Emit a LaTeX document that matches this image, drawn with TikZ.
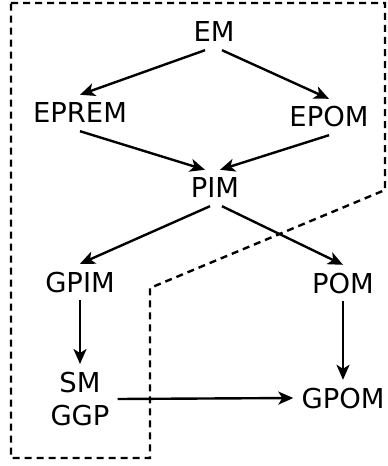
\documentclass[tikz,border=0pt]{standalone}
\usepackage{fontspec}
\setmainfont{DejaVu Sans}
\usepackage{tikz}
\usetikzlibrary{arrows.meta,calc,positioning}
\tikzset{model/.style={inner sep=8bp,text height=20bp,text depth=0bp,font=\fontsize{27.5}{33}\selectfont},
arr/.style={line width=2.4bp,-{Stealth[length=15bp,width=13bp,inset=4bp]}},
frame/.style={line width=2.4bp,dash pattern=on 7bp off 5bp}}

\begin{document}
\begin{tikzpicture}[x=1bp,y=-1bp]
\useasboundingbox (0,0) rectangle (387,466);
\draw[frame] (11,3) -- (385,3) -- (385,190) -- (150,288) -- (150,458) -- (11,458) -- cycle;
\node[model] (EM) at (214,32) {EM};
\node[model] (EPREM) at (80,113) {EPREM};
\node[model] (EPOM) at (329,117) {EPOM};
\node[model] (PIM) at (215,188) {PIM};
\node[model] (GPIM) at (80,282) {GPIM};
\node[model] (POM) at (343,283) {POM};
\node[model,align=center,text height=,text depth=] (SMGGP) at (80,399) {SM\\GGP};
\node[model] (GPOM) at (343,398) {GPOM};
\draw[arr] ([xshift=-9bp]EM.south) -- (EPREM.north);
\draw[arr] ([xshift=8bp]EM.south) -- (EPOM.north);
\draw[arr] (EPREM.south) -- ([xshift=-10bp]PIM.north);
\draw[arr] (EPOM.south) -- ([xshift=5bp]PIM.north);
\draw[arr] ([xshift=-5bp]PIM.south) -- (GPIM.north);
\draw[arr] ([xshift=7bp]PIM.south) -- (POM.north);
\draw[arr] (GPIM.south) -- (SMGGP.north);
\draw[arr] (POM.south) -- (GPOM.north);
\draw[arr] (SMGGP.east) -- (GPOM.west);
\end{tikzpicture}
\end{document}
